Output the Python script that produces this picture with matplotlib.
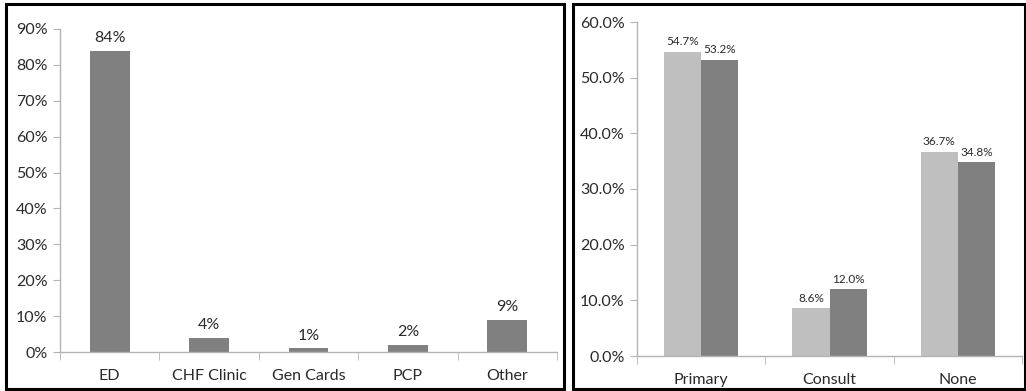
import matplotlib
matplotlib.use("Agg")
import matplotlib.pyplot as plt
from matplotlib.patches import Rectangle
from matplotlib.ticker import FuncFormatter
import numpy as np

plt.rcParams['font.family'] = ['Lato', 'DejaVu Sans']

# Left chart: where patients went
left_categories = ["ED", "CHF Clinic", "Gen Cards", "PCP", "Other"]
left_values = [84, 4, 1, 2, 9]

# Right chart: follow-up type, two groups
right_categories = ["Primary", "Consult", "None"]
right_series_a = [54.7, 8.6, 36.7]
right_series_b = [53.2, 12.0, 34.8]

W, H = 1026, 391
fig = plt.figure(figsize=(W / 100, H / 100), dpi=100)

text_color = "#2a2a2a"
axis_color = "#b4b4b4"
bar_dark = "#808080"
bar_light = "#bfbfbf"


def frac_box(x0, y0, x1, y1):
    return [x0 / W, 1 - y1 / H, (x1 - x0) / W, (y1 - y0) / H]


# Panel frames
for (x0, y0, x1, y1) in [(6, 4, 564, 389), (573, 4, 1025, 389)]:
    fig.patches.append(Rectangle((x0 / W, 1 - y1 / H), (x1 - x0) / W, (y1 - y0) / H,
                                 transform=fig.transFigure, fill=False,
                                 edgecolor="black", linewidth=2.2, zorder=10))


def style_axes(ax):
    for side in ("top", "right"):
        ax.spines[side].set_visible(False)
    for side in ("left", "bottom"):
        ax.spines[side].set_color(axis_color)
        ax.spines[side].set_linewidth(1.0)
    ax.tick_params(axis="y", direction="out", length=5, color=axis_color,
                   labelcolor=text_color, labelsize=11.5, pad=4)
    ax.tick_params(axis="x", which="major", length=0, labelcolor=text_color,
                   labelsize=11.5, pad=12)
    ax.tick_params(axis="x", which="minor", direction="out", length=6,
                   color=axis_color)


# ---- Left chart ----
ax1 = fig.add_axes(frac_box(60, 29, 557, 352))
x1 = np.arange(len(left_categories))
ax1.bar(x1, left_values, width=0.4, color=bar_dark, zorder=2)
ax1.set_xlim(-0.5, len(left_categories) - 0.5)
ax1.set_ylim(0, 90)
ax1.set_yticks(np.arange(0, 91, 10))
ax1.yaxis.set_major_formatter(FuncFormatter(lambda v, p: f"{v:.0f}%"))
ax1.set_xticks(x1)
ax1.set_xticklabels(left_categories)
ax1.set_xticks(np.arange(-0.5, len(left_categories), 1.0), minor=True)
style_axes(ax1)
for xi, v in zip(x1, left_values):
    ax1.text(xi, v + 1.5, f"{v}%", ha="center", va="bottom", fontsize=11.5,
             color=text_color)

# ---- Right chart ----
ax2 = fig.add_axes(frac_box(637, 22, 1022, 356))
x2 = np.arange(len(right_categories))
bw = 0.29
ax2.bar(x2 - bw / 2, right_series_a, width=bw, color=bar_light, zorder=2)
ax2.bar(x2 + bw / 2, right_series_b, width=bw, color=bar_dark, zorder=2)
ax2.set_xlim(-0.5, len(right_categories) - 0.5)
ax2.set_ylim(0, 60)
ax2.set_yticks(np.arange(0, 61, 10))
ax2.yaxis.set_major_formatter(FuncFormatter(lambda v, p: f"{v:.1f}%"))
ax2.set_xticks(x2)
ax2.set_xticklabels(right_categories)
ax2.set_xticks(np.arange(-0.5, len(right_categories), 1.0), minor=True)
style_axes(ax2)
for xi, va_, vb_ in zip(x2, right_series_a, right_series_b):
    ax2.text(xi - bw / 2, va_ + 0.8, f"{va_:.1f}%", ha="center", va="bottom",
             fontsize=8.5, color=text_color)
    ax2.text(xi + bw / 2, vb_ + 0.8, f"{vb_:.1f}%", ha="center", va="bottom",
             fontsize=8.5, color=text_color)

fig.savefig("out.png", dpi=100)
